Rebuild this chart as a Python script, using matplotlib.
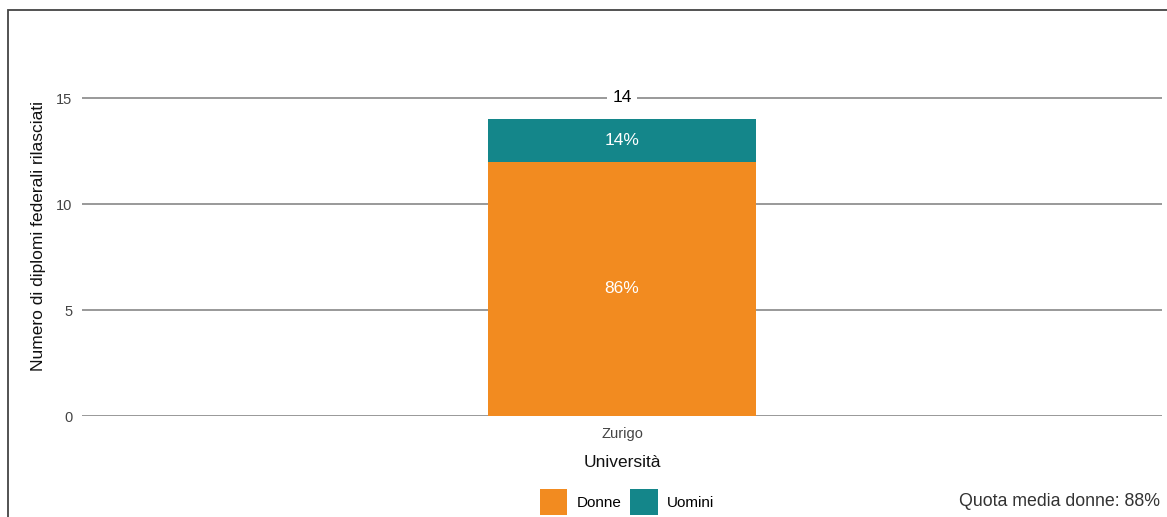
import matplotlib
matplotlib.use("Agg")
import matplotlib.pyplot as plt
from matplotlib.patches import Rectangle, Patch

plt.rcParams['font.family'] = ['Liberation Sans', 'DejaVu Sans']

categories = ["Zurigo"]
donne = [12]
uomini = [2]
yticks = [0, 5, 10, 15]
avg_share = 88

c_donne = "#F28B20"
c_uomini = "#14868A"

W, H = 1167, 517
fig = plt.figure(figsize=(W / 100, H / 100), dpi=100)
ax = fig.add_axes([82 / W, 1 - 416 / H, 1080 / W, (416 - 55.6) / H])

x = list(range(len(categories)))
ax.bar(x, donne, width=0.249, color=c_donne, zorder=3)
ax.bar(x, uomini, width=0.249, bottom=donne, color=c_uomini, zorder=3)

for i in x:
    tot = donne[i] + uomini[i]
    pd_ = round(donne[i] / tot * 100)
    pu = round(uomini[i] / tot * 100)
    ax.text(i, donne[i] / 2, f"{pd_}%", ha="center", va="center", color="white", fontsize=12.5, zorder=4)
    ax.text(i, donne[i] + uomini[i] / 2, f"{pu}%", ha="center", va="center", color="white", fontsize=12.5, zorder=4)
    ax.text(i, 15, f"{tot}", ha="center", va="center", color="black", fontsize=12.5, zorder=4,
            bbox=dict(facecolor="white", edgecolor="none", pad=4))

ax.set_xlim(-0.5, 0.5)
ax.set_ylim(0, 17)
ax.set_yticks(yticks)
ax.set_xticks(x)
ax.set_xticklabels(categories)
ax.grid(axis="y", color="#888888", linewidth=1.2, zorder=1)
for s in ["top", "right", "left", "bottom"]:
    ax.spines[s].set_visible(False)
ax.tick_params(axis="both", length=0, labelsize=10.5, labelcolor="#444444")
ax.tick_params(axis="y", pad=7)
ax.tick_params(axis="x", pad=8)
ax.set_xlabel("Università", fontsize=12.5, color="#111111", labelpad=10)
ax.set_ylabel("Numero di diplomi federali rilasciati", fontsize=12.5, color="#111111", labelpad=7)

handles = [Patch(facecolor=c_donne, label="Donne"), Patch(facecolor=c_uomini, label="Uomini")]
fig.legend(handles=handles, loc="center", bbox_to_anchor=(627 / W, 1 - 502 / H), ncol=2, frameon=False,
           fontsize=11, handlelength=1.8, handleheight=2.2, handletextpad=0.6, columnspacing=0.6,
           borderaxespad=0, borderpad=0)

fig.text(1160 / W, 1 - 502 / H, f"Quota media donne: {avg_share}%", ha="right", va="center",
         fontsize=12.8, color="#333333")

fig.patches.append(Rectangle((8 / W, -0.1), 1.2, 1 - 10 / H + 0.1, transform=fig.transFigure,
                             fill=False, edgecolor="#444444", linewidth=1.3))

fig.savefig("out.png", dpi=100)
